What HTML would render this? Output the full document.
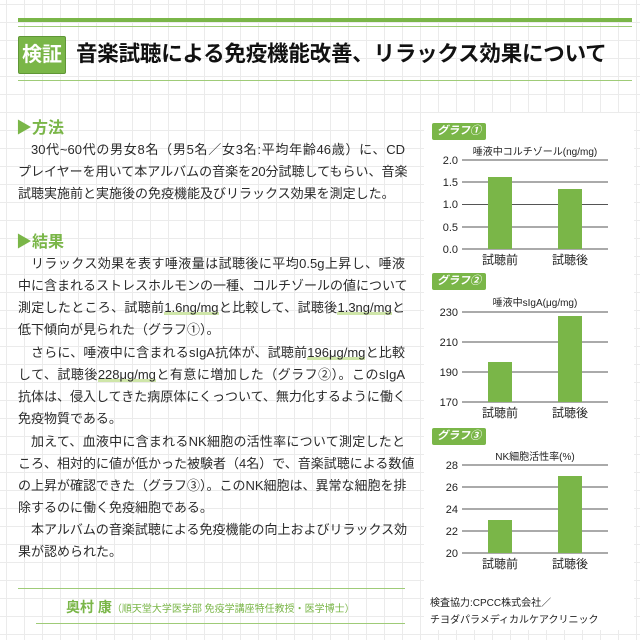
<!DOCTYPE html>
<html><head><meta charset="utf-8"><style>
body{margin:0;width:640px;height:640px;overflow:hidden;position:relative;font-family:"Liberation Sans","Noto Sans CJK JP",sans-serif;color:#2a2a2a;
background-color:#fff;background-image:linear-gradient(#ebebeb 1px,transparent 1px),linear-gradient(90deg,#ebebeb 1px,transparent 1px);background-size:18px 18px;background-position:6px 4px}
.a{position:absolute}
.ln{position:absolute;left:18px;width:387px;font-size:13px;line-height:16px;text-align:justify;text-align-last:justify;white-space:nowrap}
.ln.i{left:31px;width:374px}
.h{position:absolute;left:16px;font-size:16px;font-weight:bold;color:#7ab648}
.u{background:linear-gradient(transparent 80%,#cfe6a9 80%)}
.badge{position:absolute;left:432px;width:54px;height:17px;background:#7ab648;color:#fff;font-size:11px;font-weight:bold;font-style:italic;line-height:17px;text-align:center;border-radius:2px}
</style></head><body>
<div class="a" style="left:18px;top:18px;width:614px;height:4px;background:#7ab648"></div>
<div class="a" style="left:18px;top:26px;width:614px;height:1px;background:#9fcb78"></div>
<div class="a" style="left:18px;top:80px;width:614px;height:1px;background:#9fcb78"></div>
<div class="a" style="left:18px;top:36px;width:46px;height:36px;background:#7ab648;border:1px solid #5f9636;border-radius:2px;color:#fff;font-size:20px;font-weight:bold;line-height:36px;text-align:center">検証</div>
<div class="a" style="left:76px;top:36px;font-size:21.5px;letter-spacing:-0.2px;font-weight:bold;line-height:36px;color:#111;white-space:nowrap">音楽試聴による免疫機能改善、リラックス効果について</div>

<div class="h" style="top:114px">▶方法</div>
<div class="ln i" style="top:142px">30代~60代の男女8名（男5名／女3名:平均年齢46歳）に、CD</div>
<div class="ln" style="top:164px">プレイヤーを用いて本アルバムの音楽を20分試聴してもらい、音楽</div>
<div class="ln" style="top:186px;width:366px">試聴実施前と実施後の免疫機能及びリラックス効果を測定した。</div>
<div class="h" style="top:228px">▶結果</div>
<div class="ln i" style="top:256px">リラックス効果を表す唾液量は試聴後に平均0.5g上昇し、唾液</div>
<div class="ln" style="top:278px">中に含まれるストレスホルモンの一種、コルチゾールの値について</div>
<div class="ln" style="top:300px">測定したところ、試聴前<span class="u">1.6ng/mg</span>と比較して、試聴後<span class="u">1.3ng/mg</span>と</div>
<div class="ln" style="top:322px;width:190px">低下傾向が見られた（グラフ①）。</div>
<div class="ln i" style="top:345px">さらに、唾液中に含まれるsIgA抗体が、試聴前<span class="u">196μg/mg</span>と比較</div>
<div class="ln" style="top:367px">して、試聴後<span class="u">228μg/mg</span>と有意に増加した（グラフ②）。このsIgA</div>
<div class="ln" style="top:389px">抗体は、侵入してきた病原体にくっついて、無力化するように働く</div>
<div class="ln" style="top:411px;width:90px">免疫物質である。</div>
<div class="ln i" style="top:434px">加えて、血液中に含まれるNK細胞の活性率について測定したと</div>
<div class="ln" style="top:456px">ころ、相対的に値が低かった被験者（4名）で、音楽試聴による数値</div>
<div class="ln" style="top:478px">の上昇が確認できた（グラフ③）。このNK細胞は、異常な細胞を排</div>
<div class="ln" style="top:500px;width:150px">除するのに働く免疫細胞である。</div>
<div class="ln i" style="top:522px">本アルバムの音楽試聴による免疫機能の向上およびリラックス効</div>
<div class="ln" style="top:544px;width:90px">果が認められた。</div>

<div class="a" style="left:18px;top:588px;width:387px;height:1px;background:#9fcb78"></div>
<div class="a" style="left:36px;top:623px;width:369px;height:1px;background:#9fcb78"></div>
<div class="a" style="left:66px;top:597px;white-space:nowrap;color:#7ab648"><span style="font-size:14px;font-weight:bold">奥村 康</span><span style="font-size:10px">（順天堂大学医学部 免疫学講座特任教授・医学博士）</span></div>

<div class="a" style="left:424px;top:113px;width:210px;height:517px;background:#fff"></div>
<div class="badge" style="top:123px">グラフ①</div>
<div class="badge" style="top:273px">グラフ②</div>
<div class="badge" style="top:428px">グラフ③</div>
<svg class="a" style="left:0;top:0" width="640" height="640" font-family="Liberation Sans, Noto Sans CJK JP, sans-serif" font-size="11" fill="#222">
<g stroke="#555" stroke-width="1">
<line x1="462" x2="608" y1="160" y2="160"/><line x1="462" x2="608" y1="182" y2="182"/><line x1="462" x2="608" y1="204.5" y2="204.5"/><line x1="462" x2="608" y1="227" y2="227"/><line x1="462" x2="608" y1="249" y2="249"/>
<line x1="462" x2="608" y1="312" y2="312"/><line x1="462" x2="608" y1="342" y2="342"/><line x1="462" x2="608" y1="372" y2="372"/><line x1="462" x2="608" y1="402" y2="402"/>
<line x1="462" x2="608" y1="465" y2="465"/><line x1="462" x2="608" y1="487" y2="487"/><line x1="462" x2="608" y1="509" y2="509"/><line x1="462" x2="608" y1="531" y2="531"/><line x1="462" x2="608" y1="553" y2="553"/>
</g>
<g fill="#7ab648">
<rect x="488" y="177" width="24" height="72"/><rect x="558" y="189" width="24" height="60"/>
<rect x="488" y="362" width="24" height="40"/><rect x="558" y="316" width="24" height="86"/>
<rect x="488" y="520" width="24" height="33"/><rect x="558" y="476" width="24" height="77"/>
</g>
<g text-anchor="end" font-size="11">
<text x="458" y="164">2.0</text><text x="458" y="186">1.5</text><text x="458" y="208">1.0</text><text x="458" y="231">0.5</text><text x="458" y="253">0.0</text>
<text x="458" y="316">230</text><text x="458" y="346">210</text><text x="458" y="376">190</text><text x="458" y="406">170</text>
<text x="458" y="469">28</text><text x="458" y="491">26</text><text x="458" y="513">24</text><text x="458" y="535">22</text><text x="458" y="557">20</text>
</g>
<g text-anchor="middle" font-size="12">
<text x="500" y="264">試聴前</text><text x="570" y="264">試聴後</text>
<text x="500" y="417">試聴前</text><text x="570" y="417">試聴後</text>
<text x="500" y="568">試聴前</text><text x="570" y="568">試聴後</text>
</g>
<g text-anchor="middle" font-size="10">
<text x="535" y="155">唾液中コルチゾール(ng/mg)</text>
<text x="535" y="306">唾液中sIgA(μg/mg)</text>
<text x="535" y="460">NK細胞活性率(%)</text>
</g>
<text x="430" y="606" font-size="10">検査協力:CPCC株式会社／</text>
<text x="430" y="623" font-size="10">チヨダパラメディカルケアクリニック</text>
</svg>
</body></html>
